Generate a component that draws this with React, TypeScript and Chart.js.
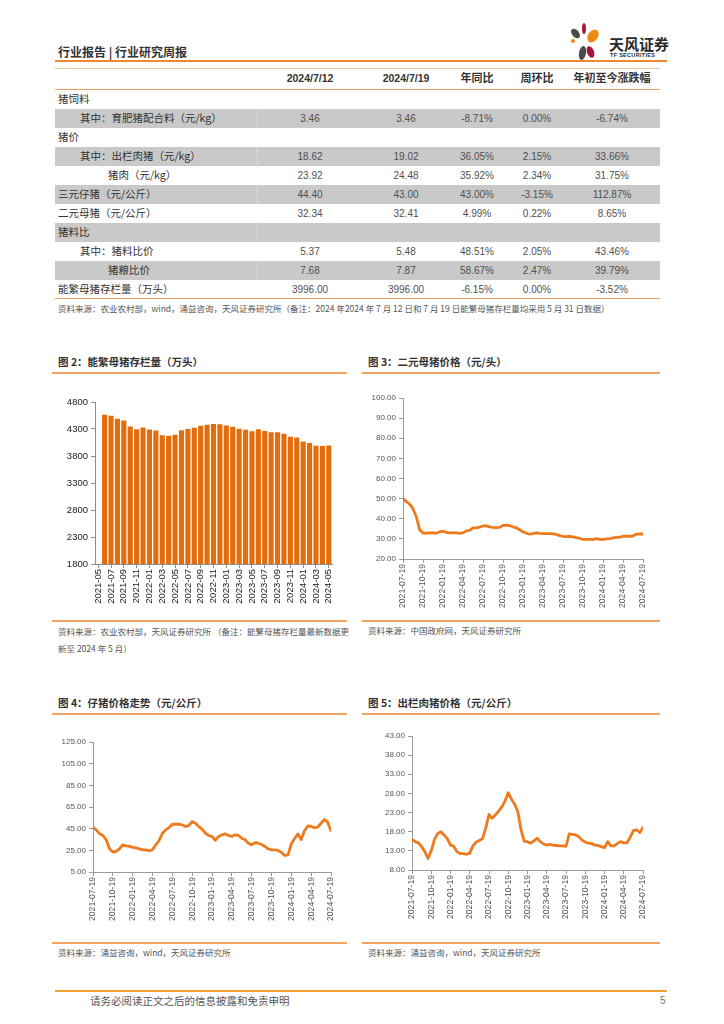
import React, { useEffect, useRef } from "react";
import { Chart, registerables } from "chart.js";
Chart.register(...registerables);

// ---------- Data ----------
const rowLabels = [
  "猪饲料",
  "其中：育肥猪配合料（元/kg）",
  "猪价",
  "其中：出栏肉猪（元/kg）",
  "猪肉（元/kg）",
  "三元仔猪（元/公斤）",
  "二元母猪（元/公斤）",
  "猪料比",
  "其中：猪料比价",
  "猪粮比价",
  "能繁母猪存栏量（万头）",
];
const tableHeaders = ["2024/7/12", "2024/7/19", "年同比", "周环比", "年初至今涨跌幅"];
const val0712 = ["", "3.46", "", "18.62", "23.92", "44.40", "32.34", "", "5.37", "7.68", "3996.00"];
const val0719 = ["", "3.46", "", "19.02", "24.48", "43.00", "32.41", "", "5.48", "7.87", "3996.00"];
const yoyChange = ["", "-8.71%", "", "36.05%", "35.92%", "43.00%", "4.99%", "", "48.51%", "58.67%", "-6.15%"];
const wowChange = ["", "0.00%", "", "2.15%", "2.34%", "-3.15%", "0.22%", "", "2.05%", "2.47%", "0.00%"];
const ytdChange = ["", "-6.74%", "", "33.66%", "31.75%", "112.87%", "8.65%", "", "43.46%", "39.79%", "-3.52%"];

const sowMonths = [
  "2021-05", "2021-06", "2021-07", "2021-08", "2021-09", "2021-10", "2021-11", "2021-12",
  "2022-01", "2022-02", "2022-03", "2022-04", "2022-05", "2022-06", "2022-07", "2022-08",
  "2022-09", "2022-10", "2022-11", "2022-12", "2023-01", "2023-02", "2023-03", "2023-04",
  "2023-05", "2023-06", "2023-07", "2023-08", "2023-09", "2023-10", "2023-11", "2023-12",
  "2024-01", "2024-02", "2024-03", "2024-04", "2024-05",
];
const sowStock = [
  null, 4564, 4545, 4490, 4459, 4348, 4296, 4329,
  4290, 4274, 4185, 4177, 4192, 4277, 4298, 4324,
  4362, 4379, 4394, 4390, 4367, 4343, 4305, 4284,
  4257, 4296, 4261, 4241, 4240, 4210, 4158, 4142,
  4067, 4042, 3992, 3986, 3996,
];

const quarterLabels = [
  "2021-07-19", "2021-10-19", "2022-01-19", "2022-04-19", "2022-07-19", "2022-10-19",
  "2023-01-19", "2023-04-19", "2023-07-19", "2023-10-19", "2024-01-19", "2024-04-19", "2024-07-19",
];

// semi-monthly readings, 2021-07-19 .. 2024-07-19
const sowPrice = [
  50, 48.5, 47.3, 45, 41, 34.5, 33, 32.8, 33, 33,
  32.8, 33.5, 33.8, 33.2, 33, 33, 33, 32.8, 33, 34,
  34.2, 35.5, 35.5, 35.8, 36.5, 36.5, 36, 35.7, 35.6, 35.7,
  36.7, 36.8, 36.6, 36, 35.5, 34.5, 33.5, 32.8, 32.3, 32.6,
  33, 32.7, 32.6, 32.6, 32.6, 32.5, 32.2, 31.6, 31.2, 31.1,
  31.3, 31, 30.6, 30.2, 29.8, 29.8, 29.8, 29.8, 30.1, 29.8,
  29.7, 30, 30.1, 30.5, 30.7, 30.8, 31.3, 31.3, 31.3, 31.4,
  32.3, 32.5, 32.41,
];
const pigletPrice = [
  46.3, 43.9, 40.2, 38.7, 34.7, 26.4, 23.4, 24, 26.4, 30.1,
  29.2, 28.6, 27.7, 27.3, 26.4, 25.5, 25.5, 24.6, 25.5, 30.1,
  34.1, 40.8, 43.9, 46, 49.1, 49.1, 49.1, 48.5, 46.9, 47.9,
  51.5, 50, 46.9, 44.5, 40.8, 38.7, 37.8, 34.1, 37.8, 39.3,
  40.2, 38.7, 37.8, 39.3, 38.7, 36.2, 34.7, 31.6, 30.1, 32.2,
  31.6, 30.4, 28.6, 26.4, 25.5, 25.5, 24.9, 23.1, 20.3, 20.9,
  31, 36, 40, 35, 43, 47.5, 47, 46, 46.5, 50,
  53.5, 51, 43,
];
const hogPrice = [
  16.0, 15.4, 15.1, 14.1, 12.8, 11.0, 13.0, 16.0, 17.5, 18.0,
  17.1, 16.2, 14.5, 14.2, 12.8, 12.3, 12.3, 12.1, 12.4, 14.3,
  15.3, 15.7, 16.2, 19.0, 22.5, 21.5, 22.4, 23.4, 24.5, 26.0,
  28.2, 26.5, 25.2, 23.2, 18.4, 15.5, 15.4, 15.0, 15.6, 16.3,
  15.4, 14.8, 14.5, 14.7, 14.5, 14.4, 14.3, 14.3, 14.2, 17.4,
  17.3, 17.2, 16.7, 15.8, 15.3, 15.0, 14.9, 14.5, 14.4, 14.1,
  13.8, 15.4, 14.3, 14.3, 14.9, 15.4, 15.1, 15.1, 16.5, 18.3,
  18.5, 17.8, 19.1,
];

// ---------- Styles ----------
const CJK = '"Noto Sans CJK SC", "Noto Sans", sans-serif';
const NUM = '"Liberation Sans", Arial, sans-serif';
const BAR = "#E46C0A";
const LINE = "#EE7A1E";
const ORANGE = "#F2A463";

function Txt(props: any) {
  const { x, y, size, children, color = "#333", weight = 400, family = CJK, anchor = "left", style = {} } = props;
  const s: any = {
    position: "absolute",
    top: y - size * 0.7,
    lineHeight: size * 1.4 + "px",
    fontSize: size,
    color,
    fontWeight: weight,
    fontFamily: family,
    whiteSpace: "nowrap",
  };
  if (anchor === "left") s.left = x;
  else if (anchor === "center") {
    s.left = x;
    s.transform = "translateX(-50%)";
  } else s.right = 724 - x;
  return <div style={{ ...s, ...style }}>{children}</div>;
}

function HLine({ x, y, w, h = 1.5, color = ORANGE }: any) {
  return <div style={{ position: "absolute", left: x, top: y, width: w, height: h, background: color }} />;
}

function BarChart() {
  const ref = useRef<HTMLCanvasElement>(null);
  useEffect(() => {
    const c = new Chart(ref.current as HTMLCanvasElement, {
      type: "bar",
      data: {
        labels: sowMonths,
        datasets: [{ data: sowStock as any, backgroundColor: BAR, borderWidth: 0, barPercentage: 0.8, categoryPercentage: 1 }],
      },
      options: {
        animation: false,
        responsive: false,
        layout: { padding: { top: 17, right: 15, left: 0, bottom: 0 } },
        plugins: { legend: { display: false }, tooltip: { enabled: false } },
        scales: {
          x: {
            ticks: {
              autoSkip: false,
              maxRotation: 90,
              minRotation: 90,
              padding: 1,
              color: "#1a1a1a",
              font: { family: NUM, size: 9.5 },
              callback: (_v: any, i: number) => (i % 2 === 0 ? sowMonths[i] : ""),
            },
            grid: {
              drawOnChartArea: false,
              drawTicks: true,
              tickLength: 4,
              offset: false,
              color: (ctx: any) => (ctx.index % 2 === 0 ? "#8c8c8c" : "rgba(0,0,0,0)"),
            },
            border: { color: "#8c8c8c" },
            afterFit: (s: any) => {
              s.height = 46;
            },
          } as any,
          y: {
            min: 1800,
            max: 4800,
            ticks: {
              stepSize: 500,
              padding: 3,
              color: "#1a1a1a",
              font: { family: NUM, size: 9.5 },
              callback: (v: any) => String(Math.round(Number(v))),
            },
            grid: { drawOnChartArea: false, drawTicks: true, tickLength: 4, color: "#8c8c8c" },
            border: { color: "#8c8c8c" },
            afterFit: (s: any) => {
              s.width = 43;
            },
          } as any,
        },
      },
    });
    return () => c.destroy();
  }, []);
  return <canvas ref={ref} width={295} height={225} style={{ position: "absolute", left: 52, top: 385, width: 295, height: 225 }} />;
}

function LineChart(props: any) {
  const { values, left, top, w, h, min, max, step, yWidth, xHeight, padTop, padRight } = props;
  const ref = useRef<HTMLCanvasElement>(null);
  useEffect(() => {
    const n = values.length - 1;
    const every = n / (quarterLabels.length - 1);
    const c = new Chart(ref.current as HTMLCanvasElement, {
      type: "line",
      data: {
        datasets: [
          {
            data: values.map((v: number, i: number) => ({ x: i, y: v })),
            borderColor: LINE,
            borderWidth: 2.8,
            pointRadius: 0,
            tension: 0,
            borderJoinStyle: "round",
            borderCapStyle: "round",
          },
        ],
      },
      options: {
        animation: false,
        responsive: false,
        layout: { padding: { top: padTop, right: padRight, left: 0, bottom: 0 } },
        plugins: { legend: { display: false }, tooltip: { enabled: false } },
        scales: {
          x: {
            type: "linear",
            min: 0,
            max: n,
            ticks: {
              stepSize: every,
              maxTicksLimit: 40,
              autoSkip: false,
              maxRotation: 90,
              minRotation: 90,
              padding: 1,
              color: "#555",
              font: { family: NUM, size: 8.6 },
              callback: (v: any) => quarterLabels[Math.round(v / every)] || "",
            },
            grid: { drawOnChartArea: false, drawTicks: true, tickLength: 4, color: "#9a9a9a" },
            border: { color: "#9a9a9a" },
            afterFit: (s: any) => {
              s.height = xHeight;
            },
          } as any,
          y: {
            min,
            max,
            ticks: {
              stepSize: step,
              padding: 3,
              color: "#555",
              font: { family: NUM, size: 8 },
              callback: (v: any) => Number(v).toFixed(2),
            },
            grid: { drawOnChartArea: false, drawTicks: true, tickLength: 4, color: "#9a9a9a" },
            border: { color: "#9a9a9a" },
            afterFit: (s: any) => {
              s.width = yWidth;
            },
          } as any,
        },
      },
    });
    return () => c.destroy();
  }, []);
  return <canvas ref={ref} width={w} height={h} style={{ position: "absolute", left, top, width: w, height: h }} />;
}

function Logo() {
  const leaf = (l: number, t: number, w: number, h: number, rot: number, bg: string) => (
    <div
      style={{
        position: "absolute",
        left: l,
        top: t,
        width: w,
        height: h,
        background: bg,
        borderRadius: "50%",
        transform: `rotate(${rot}deg)`,
      }}
    />
  );
  return (
    <>
      {leaf(572, 28, 7, 11, -40, "#4a4a4a")}
      {leaf(582, 23, 4, 11, 0, "#A5173A")}
      {leaf(588, 29, 10, 14, 35, "#EE8A12")}
      {leaf(571, 39, 4, 4, 0, "#EE8A12")}
      {leaf(579, 46, 7, 14, 10, "#4a4a4a")}
      {leaf(587, 46, 7, 12, -20, "#A5173A")}
      <Txt x={609} y={43} size={15} weight={700} color="#2a2a2a">
        天风证券
      </Txt>
      <Txt x={610} y={56} size={5.5} weight={700} color="#2a2a2a" family={NUM} style={{ letterSpacing: 0.3 }}>
        TF SECURITIES
      </Txt>
    </>
  );
}

function DataTable() {
  const indent = [58, 80, 58, 80, 108, 58, 58, 58, 80, 108, 58];
  const centers = [310, 406, 477, 537, 612];
  const cols = [val0712, val0719, yoyChange, wowChange, ytdChange];
  return (
    <>
      <HLine x={55} y={68} w={605} h={1} color="#F7C49A" />
      {tableHeaders.map((t, i) => (
        <Txt
          key={"h" + i}
          x={centers[i]}
          y={78}
          size={i < 2 ? 10.5 : 11}
          weight={700}
          anchor="center"
          family={i < 2 ? NUM : CJK}
          color="#333"
        >
          {t}
        </Txt>
      ))}
      <HLine x={55} y={88.5} w={605} h={1.5} color="#F0A060" />
      {rowLabels.map((lab, k) => {
        const top = 90 + 19 * k;
        const cy = top + 9.5;
        return (
          <React.Fragment key={"r" + k}>
            {k % 2 === 1 && (
              <div style={{ position: "absolute", left: 55, top, width: 605, height: 19, background: "#C9C9C9" }}>
                <div style={{ position: "absolute", left: 202, top: 0, width: 1, height: 19, background: "#DADADA" }} />
              </div>
            )}
            <Txt x={indent[k]} y={cy} size={10.5} color="#333">
              {lab}
            </Txt>
            {cols.map((col, j) =>
              col[k] ? (
                <Txt key={"c" + j} x={centers[j]} y={cy} size={10} anchor="center" family={NUM} color="#505050">
                  {col[k]}
                </Txt>
              ) : null
            )}
          </React.Fragment>
        );
      })}
      <HLine x={55} y={297.5} w={605} h={1.5} color="#F0A060" />
      <Txt x={58} y={309} size={8.5} color="#555">
        资料来源：农业农村部，wind，涌益咨询，天风证券研究所（备注：2024 年2024 年 7 月 12 日和 7 月 19 日能繁母猪存栏量均采用 5 月 31 日数据）
      </Txt>
    </>
  );
}

export default function App() {
  return (
    <div
      style={{
        position: "absolute",
        left: 0,
        top: 0,
        width: 724,
        height: 1024,
        background: "#fff",
        overflow: "hidden",
        fontFamily: CJK,
      }}
    >
      {/* header */}
      <Txt x={58} y={52} size={12} weight={700} color="#333">
        行业报告 | 行业研究周报
      </Txt>
      <Logo />
      <HLine x={55} y={60} w={612} h={2} color="#EE8A2E" />

      <DataTable />

      {/* Figure 2 */}
      <Txt x={58} y={362} size={10.5} weight={700} color="#333">
        图 2：能繁母猪存栏量（万头）
      </Txt>
      <HLine x={52} y={372} w={295} />
      <BarChart />
      <HLine x={52} y={620} w={295} />
      <div
        style={{
          position: "absolute",
          left: 58,
          top: 625,
          width: 287,
          fontSize: 8.5,
          lineHeight: "12px",
          color: "#555",
          whiteSpace: "nowrap",
          textAlign: "justify",
          textAlignLast: "justify" as any,
        }}
      >
        资料来源：农业农村部，天风证券研究所 （备注：能繁母猪存栏量最新数据更
      </div>
      <Txt x={58} y={649} size={8.5} color="#555">
        新至 2024 年 5 月）
      </Txt>

      {/* Figure 3 */}
      <Txt x={368} y={362} size={10.5} weight={700} color="#333">
        图 3：二元母猪价格（元/头）
      </Txt>
      <HLine x={362} y={372} w={298} />
      <LineChart
        values={sowPrice}
        left={362}
        top={385}
        w={298}
        h={228}
        min={20}
        max={100}
        step={10}
        yWidth={41}
        xHeight={54}
        padTop={13}
        padRight={17}
      />
      <HLine x={362} y={620} w={298} />
      <Txt x={368} y={631} size={8.5} color="#555">
        资料来源：中国政府网，天风证券研究所
      </Txt>

      {/* Figure 4 */}
      <Txt x={58} y={703} size={10.5} weight={700} color="#333">
        图 4：仔猪价格走势（元/公斤）
      </Txt>
      <HLine x={52} y={713} w={295} />
      <LineChart
        values={pigletPrice}
        left={52}
        top={725}
        w={295}
        h={205}
        min={5}
        max={125}
        step={20}
        yWidth={41}
        xHeight={58}
        padTop={17}
        padRight={16}
      />
      <HLine x={52} y={942} w={295} />
      <Txt x={58} y={953} size={8.5} color="#555">
        资料来源：涌益咨询，wind，天风证券研究所
      </Txt>

      {/* Figure 5 */}
      <Txt x={368} y={703} size={10.5} weight={700} color="#333">
        图 5：出栏肉猪价格（元/公斤）
      </Txt>
      <HLine x={362} y={713} w={298} />
      <LineChart
        values={hogPrice}
        left={362}
        top={725}
        w={298}
        h={205}
        min={8}
        max={43}
        step={5}
        yWidth={50}
        xHeight={60}
        padTop={11}
        padRight={17}
      />
      <HLine x={362} y={942} w={298} />
      <Txt x={368} y={953} size={8.5} color="#555">
        资料来源：涌益咨询，wind，天风证券研究所
      </Txt>

      {/* footer */}
      <HLine x={55} y={989.5} w={612} h={2} color="#F0A030" />
      <Txt x={90} y={1001} size={10.5} color="#555">
        请务必阅读正文之后的信息披露和免责申明
      </Txt>
      <Txt x={660} y={1001} size={10} color="#777" family={NUM}>
        5
      </Txt>
    </div>
  );
}
